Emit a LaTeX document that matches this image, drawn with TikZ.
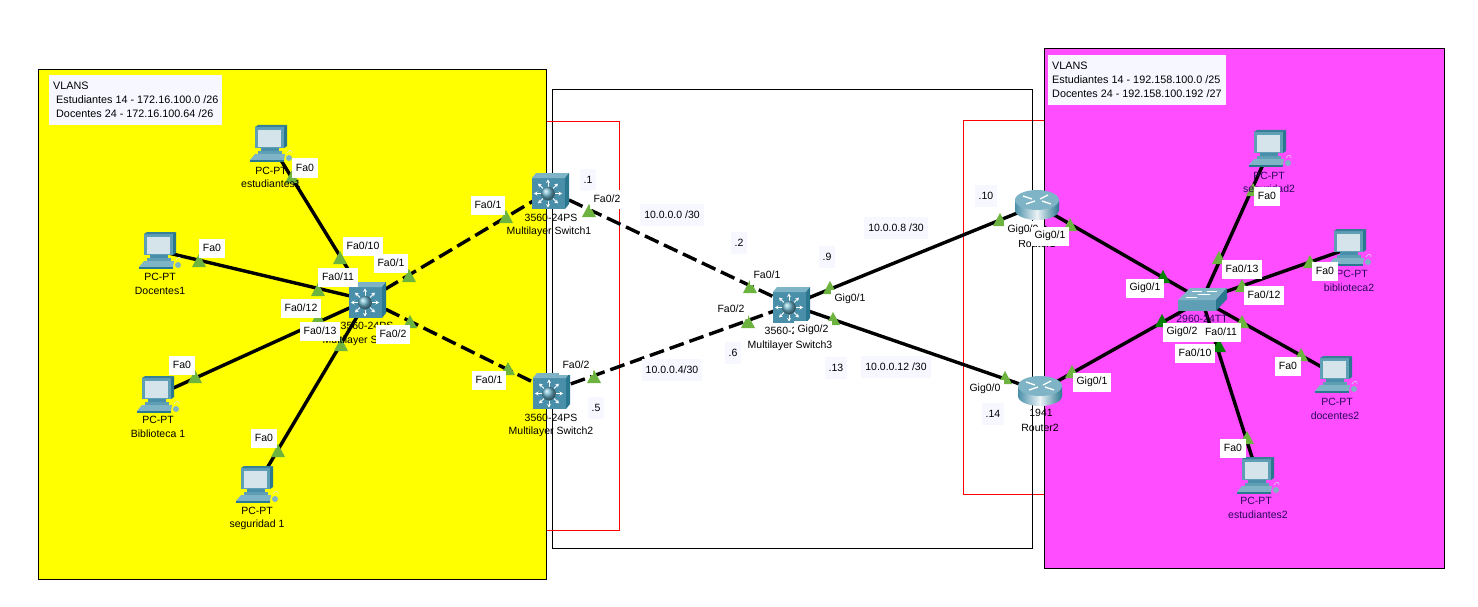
\documentclass[tikz,border=0pt]{standalone}
\usepackage{fontspec}
\setmainfont{Liberation Sans}
\usetikzlibrary{arrows.meta}
\definecolor{zoneyellow}{HTML}{FFFF00}
\definecolor{zonepink}{HTML}{FF4DFF}
\definecolor{notefill}{HTML}{F7F8FF}
\definecolor{portgreen}{HTML}{6DB33F}
\definecolor{portdark}{HTML}{008000}
\definecolor{tealfront}{HTML}{4A8FA9}
\definecolor{tealmon}{HTML}{5F9FB5}
\definecolor{tealtop}{HTML}{7FB4C6}
\definecolor{tealside}{HTML}{2A7790}
\definecolor{screenblue}{HTML}{D5E4EA}
\definecolor{pinktext}{HTML}{2A0A5A}
\definecolor{ballteal}{HTML}{6FB6CC}
\newcommand{\lf}{\fontsize{10.5pt}{12pt}\selectfont}
\newcommand{\lfv}{\fontsize{10.8pt}{12pt}\selectfont}
\tikzset{
  zone/.style={draw=black,line width=1pt},
  redzone/.style={draw=red,line width=0.8pt},
  link/.style={draw=black,line width=3.4pt},
  dlink/.style={link,dash pattern=on 15pt off 6pt},
  plabel/.style={fill=white,inner xsep=4pt,inner ysep=0pt,minimum height=19pt,font=\lf,text=black},
  notelabel/.style={fill=notefill,inner xsep=4pt,inner ysep=0pt,minimum height=22pt,font=\lf,text=black},
  devtext/.style={inner sep=0pt,font=\lf,text=black},
  devpink/.style={devtext,text=pinktext},
  vlanbox/.style={fill=notefill,inner sep=0pt,minimum width=#1,minimum height=50pt},
  vlantext/.style={inner sep=0pt,font=\lfv,anchor=west,text=black},
  pcicon/.pic={
    \fill[tealside] (13,-17) -- (16,-19) -- (16,2) -- (13,4) -- cycle;
    \fill[tealmon] (-16,-17) rectangle (13,4);
    \fill[tealside!80!tealmon] (-16,-17) -- (-13,-19) -- (16,-19) -- (13,-17) -- cycle;
    \fill[screenblue] (-13,-14) rectangle (10,3);
    \fill[tealfront] (-10,4) rectangle (8,7);
    \fill[tealmon] (-13,7) rectangle (11,10);
    \fill[tealtop] (-16,10) -- (14,10) -- (13,16) -- (-21,16) -- cycle;
    \fill[tealside] (-21,16) rectangle (13,18);
    \fill[tealtop] (18,14) circle[radius=3pt];
    \draw[screenblue,line width=0.5pt] (16,9) .. controls (18,5) and (22,6) .. (21,9);
  },
  mlsicon/.pic={
    \fill[tealfront] (-18,-13) rectangle (15,18);
    \fill[tealtop] (-18,-13) -- (-14,-18) -- (19,-18) -- (15,-13) -- cycle;
    \fill[tealside] (15,-13) -- (19,-18) -- (19,13) -- (15,18) -- cycle;
    \foreach \a in {0,45,...,315}
      \draw[white,line width=1pt,-{Stealth[length=3.5pt,width=4pt]}]
        ({-2+7*cos(\a)},{2.5+7*sin(\a)}) -- ({-2+14*cos(\a)},{2.5+14*sin(\a)});
    \shade[ball color=ballteal] (-2,2.5) circle[radius=6.8pt];
  },
  routericon/.pic={
    \shade[left color=tealfront,right color=tealside,middle color=white!85!tealtop]
      (-22,-5) -- (-22,5) arc[start angle=180,end angle=360,x radius=22pt,y radius=10pt] -- (22,-5) -- cycle;
    \fill[tealtop] (0,-5) ellipse[x radius=22pt,y radius=10pt];
    \foreach \a/\b/\c/\d in {-14/-9/-5/-6,14/-1/5/-4,-11/-1/-2/-4,11/-10/3/-6}
      \draw[white,line width=1.3pt] (\a,\b) -- (\c,\d);
  },
  swicon/.pic={
    \fill[tealmon] (-24,0) rectangle (14,11);
    \fill[tealtop] (-24,0) -- (-12,-12) -- (25,-12) -- (14,0) -- cycle;
    \fill[tealside] (14,0) -- (25,-12) -- (25,-1) -- (14,11) -- cycle;
    \draw[white,line width=1pt] (-10,-9) -- (0,-9) (5,-9) -- (15,-9) (-16,-3) -- (-5,-3) (-4,-6) -- (8,-6);
  }
}
\begin{document}
\begin{tikzpicture}[x=1pt,y=-1pt]
\useasboundingbox (0,0) rectangle (1478,607);
\fill[white] (0,0) rectangle (1478,607);
% zones
\draw[redzone] (540,121) rectangle (619,530);
\draw[redzone] (963,120) rectangle (1050,494);
\draw[zone,fill=white] (552,90) rectangle (1032,548);
\draw[redzone] (552,121) -- (619,121) -- (619,530) -- (552,530);
\draw[redzone] (1032,120) -- (963,120) -- (963,494) -- (1032,494);
\draw[zone,fill=zoneyellow] (38,69.5) rectangle (546,579);
\draw[zone,fill=zonepink] (1044.7,48.5) rectangle (1444.7,568);
% device centres
\coordinate (est1) at (271,144);
\coordinate (doc1) at (160,251);
\coordinate (bib1) at (158,395);
\coordinate (seg1) at (257,485);
\coordinate (ml0) at (367,300);
\coordinate (ml1) at (550,191);
\coordinate (ml2) at (551,391);
\coordinate (ml3) at (791,305);
\coordinate (r1) at (1037,205);
\coordinate (r2) at (1040,391);
\coordinate (sw) at (1202,300);
\coordinate (seg2) at (1270,149);
\coordinate (bib2) at (1350,248);
\coordinate (doc2) at (1336,375);
\coordinate (est2) at (1258,476);
% connectors
\draw[link] (est1) -- (ml0);
\draw[link] (doc1) -- (ml0);
\draw[link] (bib1) -- (ml0);
\draw[link] (seg1) -- (ml0);
\draw[dlink] (ml0) -- (ml1);
\draw[dlink] (ml0) -- (ml2);
\draw[dlink] (ml1) -- (ml3);
\draw[dlink] (ml2) -- (ml3);
\draw[link] (ml3) -- (r1);
\draw[link] (ml3) -- (r2);
\draw[link] (r1) -- (sw);
\draw[link] (r2) -- (sw);
\draw[link] (sw) -- (seg2);
\draw[link] (sw) -- (bib2);
\draw[link] (sw) -- (doc2);
\draw[link] (sw) -- (est2);
% port markers
\foreach \x/\y in {292/177,199/261,340/258,318/290,409/276,318/318,341/345,410/322,195/377,278/451,
  506/217,589/211,508/369,594/377,750/287,748/322,830/288,833/319,1000/220,1070/225,1005/378,1072/372,
  1219/258,1242/286,1242/322,1301/355,1310/262,1253/190,1247/438}
  \fill[portgreen,shift={(\x,\y)}] (-7,6) -- (7,6) -- (0,-7) -- cycle;
\foreach \x/\y in {1163/277,1162/321,1219/346}
  \fill[portdark,shift={(\x,\y)}] (-7,6) -- (7,6) -- (0,-7) -- cycle;
% icons
\pic at (est1) {pcicon};
\pic at (doc1) {pcicon};
\pic at (bib1) {pcicon};
\pic at (seg1) {pcicon};
\pic at (seg2) {pcicon};
\pic at (bib2) {pcicon};
\pic at (doc2) {pcicon};
\pic at (est2) {pcicon};
\pic at (ml0) {mlsicon};
\pic at (ml1) {mlsicon};
\pic at (ml2) {mlsicon};
\pic at (ml3) {mlsicon};
\pic at (r1) {routericon};
\pic at (r2) {routericon};
\pic at (sw) {swicon};
% device captions
\foreach \x/\y/\t [count=\i] in {
  271/171/PC-PT,271/184/estudiantes1,160/277/PC-PT,160/291/Docentes1,158/420/PC-PT,158/434/Biblioteca 1,
  257/511/PC-PT,257/525/seguridad 1,367/326/3560-24PS,365/341/Multilayer Switch0,
  551/218/3560-24PS,549/232/Multilayer Switch1,551/418/3560-24PS,551/432/Multilayer Switch2,
  791/331/3560-24PS,790/346/Multilayer Switch3,1037/230/1941,1037/244/Router1,1041/413/1941,1040/428/Router2}
  \node[devtext] (cap\i) at (\x,\y) {\t};
\foreach \x/\y/\t [count=\i] in {
  1269/176/PC-PT,1269/190/seguridad2,1352/274/PC-PT,1349/288/biblioteca2,1337/402/PC-PT,1335/416/docentes2,
  1256/501/PC-PT,1258/515/estudiantes2,1202/319/2960-24TT}
  \node[devpink] (pcap\i) at (\x,\y) {\t};
% VLAN notes
\node[vlanbox=173pt] (vl) at (135.5,100) {};
\node[vlantext] (vl1) at (53,86) {VLANS};
\node[vlantext] (vl2) at (56,100) {Estudiantes 14 - 172.16.100.0 /26};
\node[vlantext] (vl3) at (56,114) {Docentes 24 - 172.16.100.64 /26};
\node[vlanbox=178pt] (vr) at (1137,80) {};
\node[vlantext] (vr1) at (1052,66) {VLANS};
\node[vlantext] (vr2) at (1052,80) {Estudiantes 14 - 192.158.100.0 /25};
\node[vlantext] (vr3) at (1052,94) {Docentes 24 - 192.158.100.192 /27};
% address notes
\foreach \x/\y/\t [count=\i] in {
  588/180/.1,596/408/.5,672/215/{10.0.0.0 /30},672/370/{10.0.0.4/30},739/243/.2,733/353/.6,827/257/.9,836/368/.13,
  896/228/{10.0.0.8 /30},896/367/{10.0.0.12 /30},986/196/.10,993/414/.14}
  \node[notelabel] (nt\i) at (\x,\y) {\t};
% port labels
\foreach \x/\y/\t [count=\i] in {
  305/168/Fa0,212/248/Fa0,363/246/{Fa0/10},391/263/{Fa0/1},338/277/{Fa0/11},301/308/{Fa0/12},320/331/{Fa0/13},393/334/{Fa0/2},
  182/365/Fa0,264/438/Fa0,488/205/{Fa0/1},607/199/{Fa0/2},489/380/{Fa0/1},576/365/{Fa0/2},767/275/{Fa0/1},731/309/{Fa0/2},
  850/299/{Gig0/1},813/330/{Gig0/2},1023/230/{Gig0/0},1050/236/{Gig0/1},985/389/{Gig0/0},1092/382/{Gig0/1},
  1145/288/{Gig0/1},1242/269/{Fa0/13},1264/295/{Fa0/12},1182/332/{Gig0/2},1221/332/{Fa0/11},1195/353/{Fa0/10},
  1288/366/Fa0,1325/271/Fa0,1267/196/Fa0,1233/448/Fa0}
  \node[plabel] (pl\i) at (\x,\y) {\t};
\end{tikzpicture}
\end{document}
